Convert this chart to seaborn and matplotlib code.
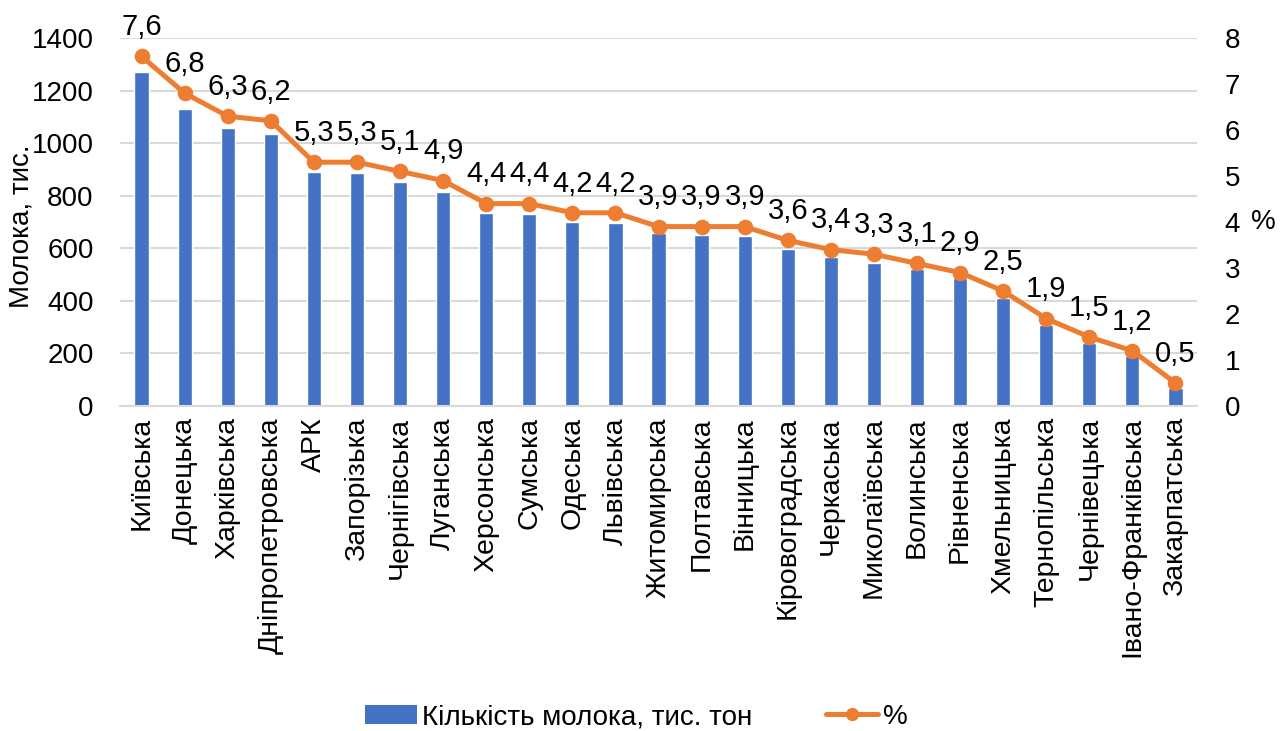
import pandas as pd
import seaborn as sns
import matplotlib.pyplot as plt
from matplotlib.patches import Patch
from matplotlib.lines import Line2D

# Дані: регіони, кількість молока (тис. тон) та частка (%)
regions = ['Київська', 'Донецька', 'Харківська', 'Дніпропетровська', 'АРК',
           'Запорізька', 'Чернігівська', 'Луганська', 'Херсонська', 'Сумська',
           'Одеська', 'Львівська', 'Житомирська', 'Полтавська', 'Вінницька',
           'Кіровоградська', 'Черкаська', 'Миколаївська', 'Волинська', 'Рівненська',
           'Хмельницька', 'Тернопільська', 'Чернівецька', 'Івано-Франківська', 'Закарпатська']
milk = [1269, 1130, 1058, 1034, 889, 885, 853, 813, 733, 731,
        699, 695, 659, 651, 645, 597, 566, 543, 522, 488,
        412, 310, 241, 190, 70]
pct = [7.6, 6.8, 6.3, 6.2, 5.3, 5.3, 5.1, 4.9, 4.4, 4.4,
       4.2, 4.2, 3.9, 3.9, 3.9, 3.6, 3.4, 3.3, 3.1, 2.9,
       2.5, 1.9, 1.5, 1.2, 0.5]
left_ticks = [0, 200, 400, 600, 800, 1000, 1200, 1400]
right_ticks = [0, 1, 2, 3, 4, 5, 6, 7, 8]

df = pd.DataFrame({'region': regions, 'milk': milk, 'pct': pct})

sns.set_theme(style='white')
plt.rcParams['font.family'] = ['Liberation Sans', 'DejaVu Sans']
plt.rcParams['text.color'] = 'black'
plt.rcParams['xtick.color'] = 'black'
plt.rcParams['ytick.color'] = 'black'

blue = '#4472C4'
orange = '#ED7D31'
grid_c = '#D9D9D9'
fs = 20

fig = plt.figure(figsize=(12.87, 7.31), dpi=100)
W, H = 1287, 731
ax = fig.add_axes([120 / W, (H - 406) / H, 1077 / W, 368 / H])

sns.barplot(data=df, x='region', y='milk', color=blue, width=0.33,
            saturation=1, ax=ax, zorder=2)
ax.set_ylim(0, 1400)
ax.set_yticks(left_ticks)
ax.yaxis.grid(True, color=grid_c, linewidth=1.5, zorder=0)
ax.set_axisbelow(True)
for s in ['top', 'right', 'left']:
    ax.spines[s].set_visible(False)
ax.spines['bottom'].set_color(grid_c)
ax.spines['bottom'].set_linewidth(1.5)
ax.tick_params(axis='y', length=0, pad=19, labelsize=fs)
ax.tick_params(axis='x', length=0, pad=8, labelsize=20.5, rotation=90)
ax.set_xlabel('')
ax.set_ylabel('')

ax2 = ax.twinx()
sns.pointplot(data=df, x='region', y='pct', color=orange, markers='o',
              markersize=8.5, linewidth=3.6, ax=ax2)
ax2.set_ylim(0, 8)
ax2.set_yticks(right_ticks)
ax2.set_ylabel('')
ax2.set_xlabel('')
for s in ax2.spines.values():
    s.set_visible(False)
ax2.tick_params(axis='y', length=0, pad=20, labelsize=fs)
ax.set_xlim(-0.5, len(regions) - 0.5)

for i, v in enumerate(pct):
    ax2.annotate(f'{v}'.replace('.', ','), (i, v), xytext=(0, 11),
                 textcoords='offset points', ha='center', va='bottom', fontsize=21)

fig.text(22 / W, (H - 226) / H, 'Молока, тис.', rotation=90, ha='center',
         va='center', fontsize=fs)
fig.text(1263 / W, (H - 222) / H, '%', ha='center', va='center', fontsize=fs)

handles = [Patch(facecolor=blue, edgecolor='none'),
           Line2D([0], [0], color=orange, linewidth=3.6, marker='o', markersize=8.5)]
fig.legend(handles, ['Кількість молока, тис. тон', '%'], loc='center left',
           bbox_to_anchor=(365 / W, (H - 717) / H), ncol=2, frameon=False,
           borderpad=0, borderaxespad=0, fontsize=fs, handlelength=1.87,
           handletextpad=0.18, columnspacing=2.66)

fig.savefig('out.png', dpi=100)
